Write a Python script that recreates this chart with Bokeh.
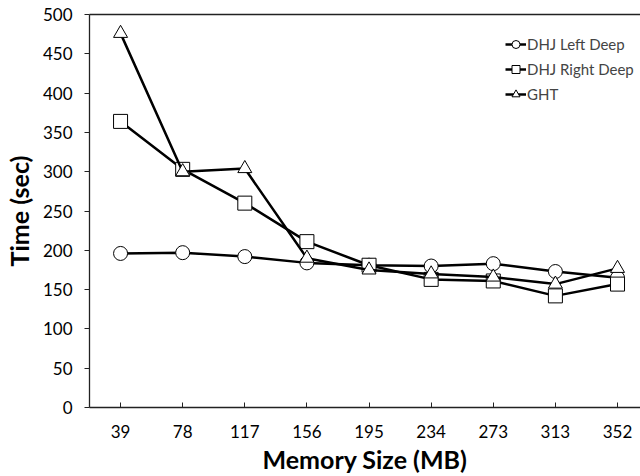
from bokeh.plotting import figure
from bokeh.models import Range1d, FixedTicker, LinearAxis, Legend, LegendItem
from bokeh.embed import file_html
from bokeh.resources import INLINE

memory_labels = ["39", "78", "117", "156", "195", "234", "273", "313", "352"]
dhj_left = [196, 197, 192, 184, 181, 180, 183, 173, 165]
dhj_right = [364, 303, 260, 211, 181, 163, 161, 142, 157]
ght = [476, 300, 304, 190, 175, 170, 166, 157, 177]
y_ticks = [0, 50, 100, 150, 200, 250, 300, 350, 400, 450, 500]

xs = list(range(len(memory_labels)))
FONT = "Lato"

p = figure(frame_width=551, frame_height=393, output_backend="svg", toolbar_location=None,
           x_range=Range1d(-0.5, 8.37), y_range=Range1d(0, 500),
           min_border_left=81, min_border_right=0, min_border_top=14, min_border_bottom=10)
p.outline_line_color = None
p.grid.grid_line_color = None
p.background_fill_color = "white"

p.xaxis.ticker = FixedTicker(ticks=xs)
p.xaxis.major_label_overrides = {i: s for i, s in enumerate(memory_labels)}
p.xaxis.minor_tick_line_color = None
p.xaxis.major_tick_in = 5
p.xaxis.major_tick_out = 0
p.xaxis.axis_label = "Memory Size (MB)"
p.xaxis.major_label_standoff = 17

p.yaxis.ticker = FixedTicker(ticks=y_ticks)
p.yaxis.minor_tick_line_color = None
p.yaxis.major_tick_in = 0
p.yaxis.major_tick_out = 5
p.yaxis.axis_label = "Time (sec)"
p.yaxis.major_label_standoff = 12

for ax in (p.xaxis, p.yaxis):
    ax.axis_line_color = "#222222"
    ax.axis_line_width = 1.3
    ax.major_tick_line_color = "#222222"
    ax.major_label_text_font = FONT
    ax.major_label_text_font_size = "17px"
    ax.major_label_text_color = "black"
    ax.axis_label_text_font = FONT
    ax.axis_label_text_font_size = "25px"
    ax.axis_label_text_font_style = "bold"
    ax.axis_label_text_color = "black"
p.xaxis.axis_label_standoff = 3
p.yaxis.axis_label_standoff = 6

top = LinearAxis(major_tick_line_color=None, minor_tick_line_color=None,
                 major_label_text_font_size="0px", axis_line_color="#222222",
                 axis_line_width=1.3)
top.ticker = FixedTicker(ticks=[])
p.add_layout(top, "above")

items = []
series = [("DHJ Left Deep", dhj_left, "circle"),
          ("DHJ Right Deep", dhj_right, "square"),
          ("GHT", ght, "triangle")]
for name, ys, marker in series:
    ln = p.line(xs, ys, line_color="black", line_width=2.5)
    sc = p.scatter(xs, ys, marker=marker, size=14, fill_color="white",
                   line_color="black", line_width=1)
    items.append(LegendItem(label=name, renderers=[ln, sc]))

legend = Legend(items=items, location=(416, 303), padding=0, margin=0,
                spacing=5, glyph_height=20, glyph_width=21, label_standoff=1,
                label_text_font=FONT, label_text_font_size="15px",
                border_line_color=None, background_fill_alpha=0)
p.add_layout(legend, "center")

open("out.html", "w").write(file_html(p, INLINE))
